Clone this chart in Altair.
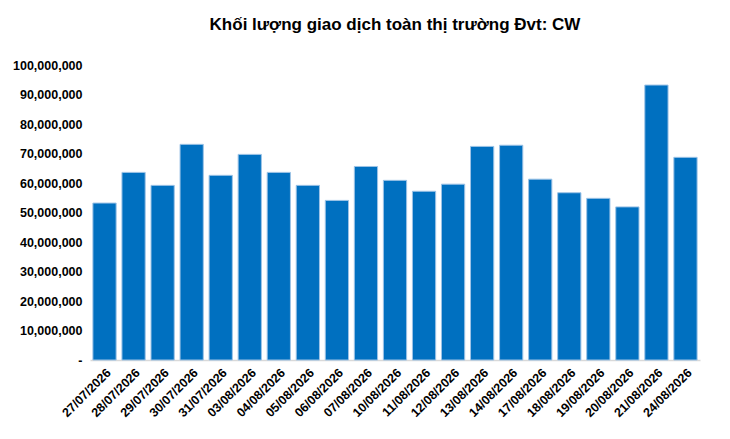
import altair as alt
import pandas as pd

dates = ["27/07/2026", "28/07/2026", "29/07/2026", "30/07/2026", "31/07/2026",
         "03/08/2026", "04/08/2026", "05/08/2026", "06/08/2026", "07/08/2026",
         "10/08/2026", "11/08/2026", "12/08/2026", "13/08/2026", "14/08/2026",
         "17/08/2026", "18/08/2026", "19/08/2026", "20/08/2026", "21/08/2026",
         "24/08/2026"]
volumes = [53200000, 63600000, 59200000, 73100000, 62600000,
           69700000, 63600000, 59200000, 54100000, 65600000,
           60900000, 57200000, 59600000, 72400000, 72800000,
           61300000, 56700000, 54800000, 51900000, 93200000,
           68700000]

df = pd.DataFrame({"date": dates, "volume": volumes})

font = "Liberation Sans"

chart = alt.Chart(df).mark_bar(
    color="#0070C0", stroke="#9DC3E6", strokeWidth=1
).encode(
    x=alt.X("date:N", sort=dates, title=None,
            scale=alt.Scale(paddingInner=0.2, paddingOuter=0.1),
            axis=alt.Axis(labelAngle=-45, labelFont=font, labelFontSize=12.5,
                          labelFontWeight="bold", labelColor="#000000",
                          ticks=False, domainColor="#d9d9d9", domainWidth=1.5,
                          labelPadding=6)),
    y=alt.Y("volume:Q", title=None,
            scale=alt.Scale(domain=[0, 100000000], nice=False),
            axis=alt.Axis(values=list(range(0, 100000001, 10000000)),
                          labelExpr="datum.value == 0 ? '-\u00a0\u00a0\u00a0\u00a0\u00a0' : format(datum.value, ',')",
                          labelFont=font, labelFontSize=12.5, labelFontWeight="bold",
                          labelColor="#000000", grid=False, ticks=False,
                          domain=False, labelPadding=8)),
).properties(
    width=610, height=295,
    autosize=alt.AutoSizeParams(type="none"),
    padding={"left": 82, "top": 57, "right": 22, "bottom": 66},
    title=alt.Title("Khối lượng giao dịch toàn thị trường Đvt: CW",
                    font=font, fontSize=17, fontWeight="bold",
                    color="#000000", offset=25, anchor="middle"),
).configure_view(stroke=None)

chart.save("out.html", embed_options={"renderer": "svg", "actions": False})
